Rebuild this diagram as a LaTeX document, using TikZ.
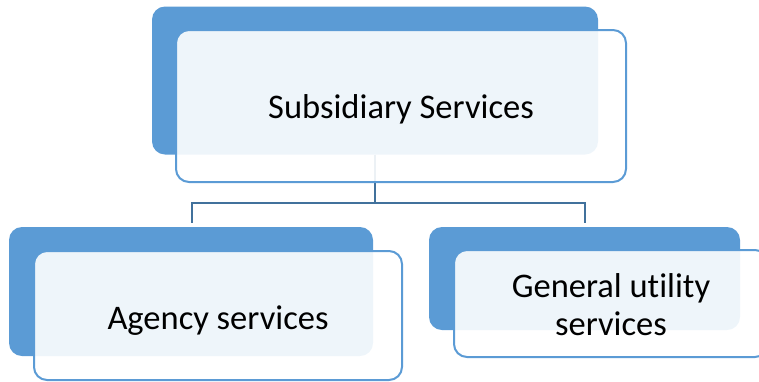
\documentclass[tikz,border=0pt]{standalone}
\usepackage{fontspec}
\setmainfont[Ligatures=NoCommon]{Carlito}
\definecolor{accent}{HTML}{5B9BD5}
\definecolor{linkc}{HTML}{41719C}
\begin{document}
\begin{tikzpicture}[x=1pt,y=-1pt,
  backbox/.style={fill=accent,rounded corners=13pt,inner sep=0pt,outer sep=0pt},
  frontbox/.style={draw=accent,line width=2pt,fill=white,fill opacity=0.9,rounded corners=13pt,inner sep=0pt,outer sep=0pt},
  label/.style={font=\fontsize{34.5}{38.5}\selectfont,align=center,text=black,inner sep=0pt},
  link/.style={draw=linkc,line width=2pt}]
\useasboundingbox (0,0) rectangle (759,381);
\node[backbox,minimum width=446pt,minimum height=148pt] (topback) at (375,80.5) {};
\node[backbox,minimum width=364pt,minimum height=129pt] (leftback) at (191,291.5) {};
\node[backbox,minimum width=311pt,minimum height=103pt] (rightback) at (584.5,278.5) {};
\coordinate (j) at (375,203);
\coordinate (la) at (192,223);
\coordinate (ra) at (585,223);
\draw[link] (topback.south) -- (j);
\draw[link] (j) -| (la);
\draw[link] (j) -| (ra);
\node[frontbox,minimum width=450pt,minimum height=152pt] (topfront) at (401,106) {};
\node[frontbox,minimum width=368pt,minimum height=129pt] (leftfront) at (218,315.5) {};
\node[frontbox,minimum width=314pt,minimum height=107pt] (rightfront) at (611,303.5) {};
\node[label,yshift=-3pt] (toptext) at (topfront.center) {Subsidiary Services};
\node[label,yshift=-5pt] (lefttext) at (leftfront.center) {Agency services};
\node[label,yshift=-1pt] (righttext) at (rightfront.center) {General utility\\services};
\end{tikzpicture}
\end{document}
